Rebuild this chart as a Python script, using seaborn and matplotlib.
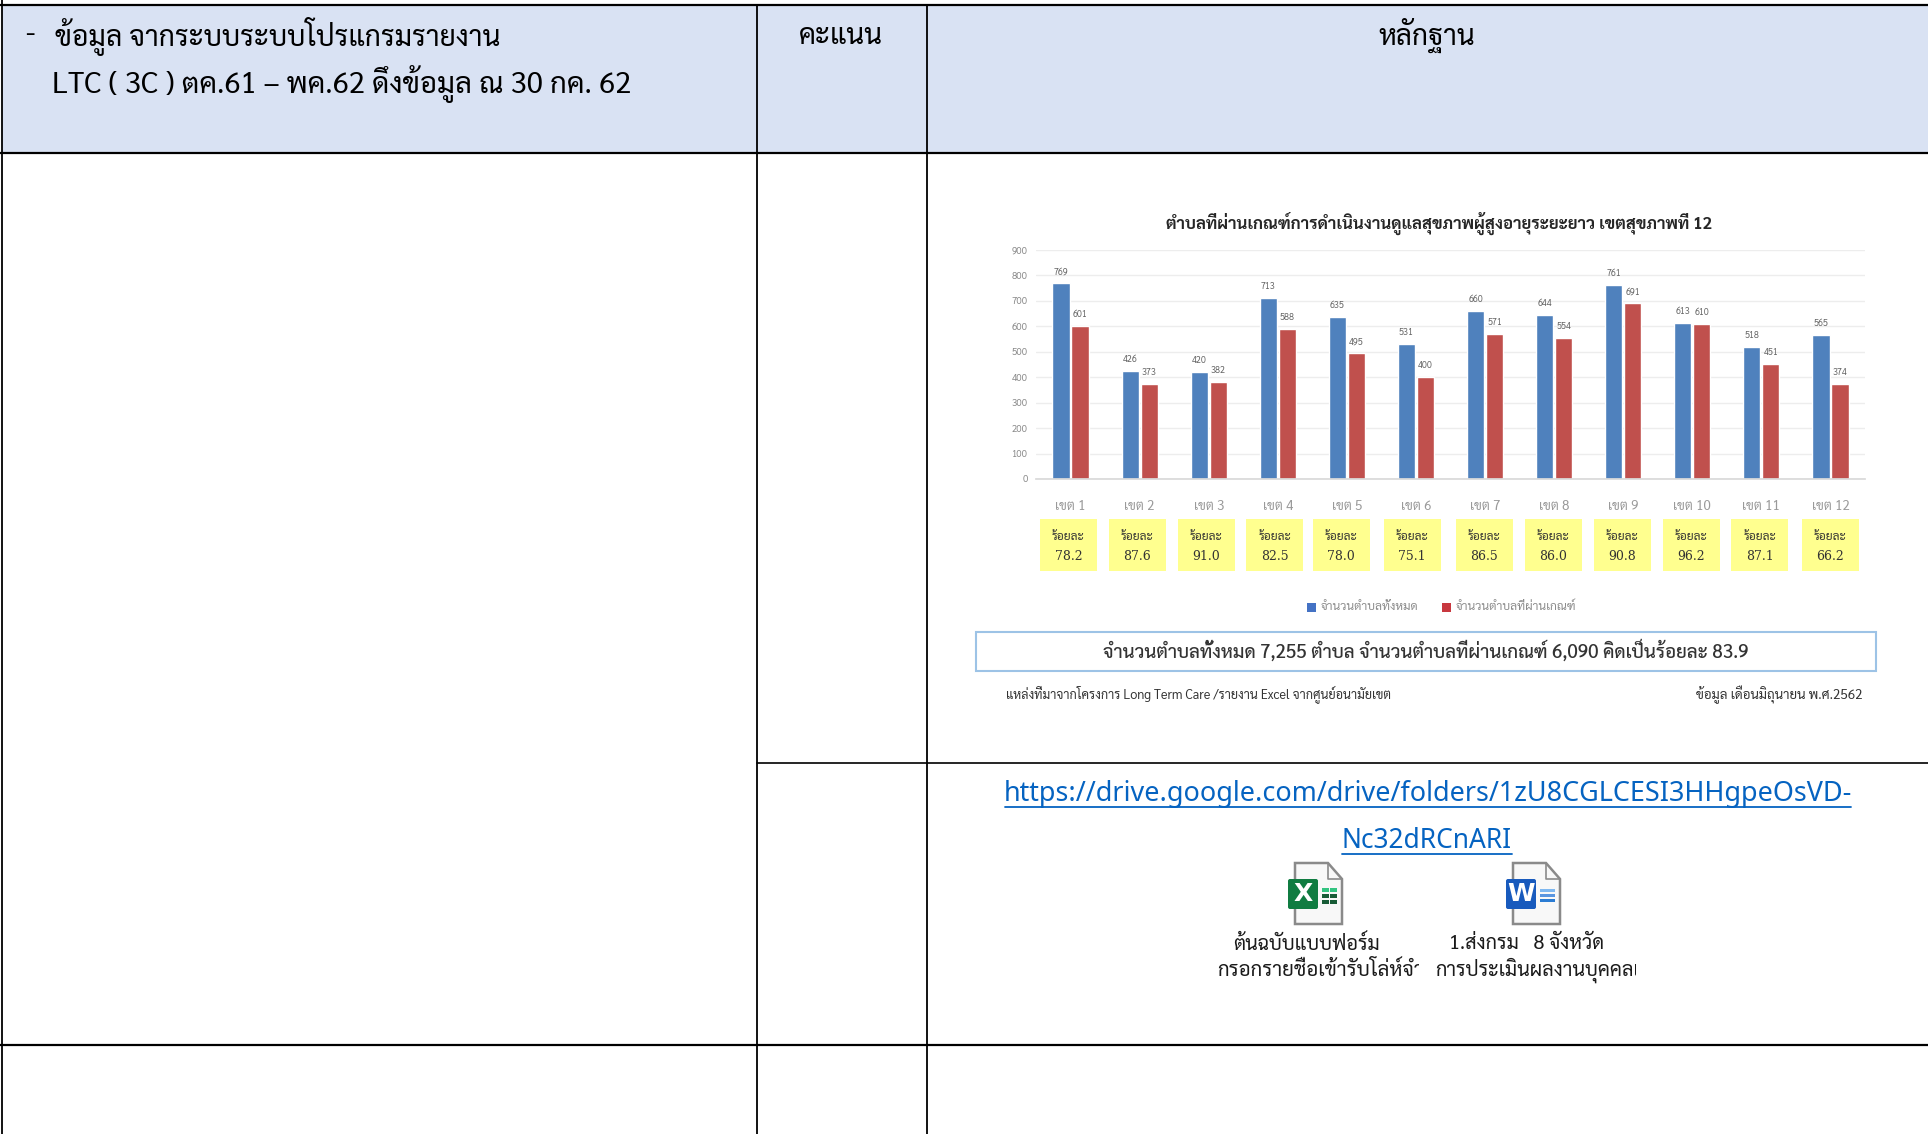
import matplotlib
matplotlib.use("Agg")
import matplotlib.pyplot as plt
from matplotlib import font_manager as fm
from matplotlib.patches import Rectangle, Polygon, FancyBboxPatch
import pandas as pd
import seaborn as sns

regions = ["เขต 1","เขต 2","เขต 3","เขต 4","เขต 5","เขต 6","เขต 7","เขต 8","เขต 9","เขต 10","เขต 11","เขต 12"]
total = [769,426,420,713,635,531,660,644,761,613,518,565]
passed = [601,373,382,588,495,400,571,554,691,610,451,374]
percent = ["78.2","87.6","91.0","82.5","78.0","75.1","86.5","86.0","90.8","96.2","87.1","66.2"]
series_names = ["จำนวนตำบลทั้งหมด","จำนวนตำบลที่ผ่านเกณฑ์"]
chart_title = "ตำบลที่ผ่านเกณฑ์การดำเนินงานดูแลสุขภาพผู้สูงอายุระยะยาว เขตสุขภาพที่ 12"
summary = "จำนวนตำบลทั้งหมด 7,255 ตำบล จำนวนตำบลที่ผ่านเกณฑ์ 6,090 คิดเป็นร้อยละ 83.9"
source = "แหล่งที่มาจากโครงการ Long Term Care /รายงาน Excel จากศูนย์อนามัยเขต"
period = "ข้อมูล เดือนมิถุนายน พ.ศ.2562"
percent_word = "ร้อยละ"
head_dash = "-"
head_1 = "ข้อมูล จากระบบระบบโปรแกรมรายงาน"
head_2 = "LTC ( 3C ) ตค.61 – พค.62 ดึงข้อมูล ณ 30 กค. 62"
head_score = "คะแนน"
head_proof = "หลักฐาน"
link_1 = "https://drive.google.com/drive/folders/1zU8CGLCESI3HHgpeOsVD-"
link_2 = "Nc32dRCnARI"
file_a = ["ต้นฉบับแบบฟอร์ม", "กรอกรายชื่อเข้ารับโล่ห์จำ"]
file_b = ["1.ส่งกรม   8 จังหวัด", "การประเมินผลงานบุคคลเ"]
box_centres = [1068.5, 1137.5, 1206.4, 1274.7, 1341.3, 1412, 1484, 1553, 1622.5, 1691.4, 1759.8, 1830]

installed = {f.name for f in fm.fontManager.ttflist}
thai = next((n for n in ["Sarabun", "Noto Sans Thai", "Niramit", "Anuphan", "Athiti"] if n in installed), "DejaVu Sans")

sns.set_theme(style="white")
plt.rcParams['font.family'] = [thai, 'DejaVu Sans']

fig = plt.figure(figsize=(19.28, 11.34), dpi=100, facecolor="white")
bg = fig.add_axes([0, 0, 1, 1], zorder=0)
bg.set_xlim(0, 1928); bg.set_ylim(1134, 0); bg.axis("off")
renderer = fig.canvas.get_renderer()


def fit(a, x, y, s, width, ha="left", color="black", **kw):
    """Place text and scale its font so that it spans `width` pixels."""
    t = a.text(x, y, s, ha=ha, va="center", color=color, fontsize=12, **kw)
    w = t.get_window_extent(renderer).width
    t.set_fontsize(12 * width / w)
    return t


# table
bg.add_patch(Rectangle((2, 5), 1926, 148, fc="#D9E2F3", ec="none"))
for y in [5, 153, 1045]:
    bg.plot([0, 1928], [y, y], color="black", lw=1.6, solid_capstyle="butt")
bg.plot([757, 1928], [763, 763], color="black", lw=1.2)
bg.plot([1.5, 1.5], [0, 1134], color="black", lw=1.3)
for x in [756.5, 927]:
    bg.plot([x, x], [5, 1134], color="black", lw=1.3)

bg.text(25, 34, head_dash, fontsize=20, ha="left", va="center", color="black")
fit(bg, 55, 36, head_1, 445)
fit(bg, 52, 84, head_2, 579)
fit(bg, 841, 37, head_score, 84, ha="center")
fit(bg, 1427, 35, head_proof, 97, ha="center")

# chart
ax = fig.add_axes([1036/1928, (1134-479)/1134, 829/1928, 229/1134], zorder=2)
df = pd.DataFrame({"region": regions*2, "value": total+passed,
                   "series": [series_names[0]]*12 + [series_names[1]]*12})
sns.barplot(data=df, x="region", y="value", hue="series", palette=["#4F81BD", "#C0504D"],
            saturation=1, width=0.55, gap=0.1, legend=False, ax=ax)
ax.set_ylim(0, 900); ax.set_xlim(-0.5, 11.5)
ax.set_xlabel(""); ax.set_ylabel("")
ax.patch.set_alpha(0)
sns.despine(ax=ax, left=True, top=True, right=True)
ax.spines["bottom"].set_color("#D9D9D9")
ax.yaxis.grid(True, color="#EDEDED", lw=1); ax.set_axisbelow(True)
ax.set_yticks(range(0, 901, 100))
ax.tick_params(axis="y", labelsize=7, colors="#8a8a8a", length=0, pad=6)
ax.tick_params(axis="x", labelsize=9.5, colors="#9a9a9a", length=0, pad=15)
for c in ax.containers:
    ax.bar_label(c, fontsize=6.5, color="#666666", padding=5)

fit(bg, 1439, 223, chart_title, 546, ha="center", color="#262626", fontweight="bold")

# percentage boxes
for xc, p in zip(box_centres, percent):
    bg.add_patch(Rectangle((xc - 28.5, 519), 57, 52, fc="#FFFF8F", ec="none"))
    fit(bg, xc, 537, percent_word, 33, ha="center", color="#333333")
    bg.text(xc, 557, p, ha="center", va="center", fontsize=9, color="#333333", family="DejaVu Serif")

# legend
bg.add_patch(Rectangle((1307, 603), 9, 9, fc="#4472C4", ec="none"))
fit(bg, 1321, 607, series_names[0], 98, color="#8c8c8c")
bg.add_patch(Rectangle((1442, 603), 9, 9, fc="#C8383F", ec="none"))
fit(bg, 1456, 607, series_names[1], 121, color="#8c8c8c")

# summary and footer
bg.add_patch(Rectangle((976, 632), 900, 39, fc="white", ec="#9DC3E6", lw=1.5))
fit(bg, 1426, 650, summary, 646, ha="center", color="#333333", fontweight=500)
fit(bg, 1006, 694, source, 386, color="#333333")
fit(bg, 1862, 695, period, 167, ha="right", color="#333333")

# link
for y, s, x0, x1 in [(794, link_1, 1005, 1851), (841, link_2, 1342, 1512)]:
    fit(bg, (x0 + x1) / 2, y, s, x1 - x0, ha="center", color="#0563C1", family="Noto Sans", fontweight="light")
    bg.plot([x0, x1], [y + 13, y + 13], color="#0563C1", lw=1.3)


# file icons
def icon(x0, fill, letter, grid):
    page = [(x0 + 8, 863), (x0 + 41, 863), (x0 + 55, 879), (x0 + 55, 924), (x0 + 8, 924)]
    bg.add_patch(Polygon(page, closed=True, fc="#F8F8F8", ec="#8a8a8a", lw=1.8))
    bg.plot([x0 + 41, x0 + 41, x0 + 55], [863, 879, 879], color="#8a8a8a", lw=1.2)
    bg.add_patch(FancyBboxPatch((x0 + 1, 879), 30, 30, boxstyle="round,pad=0,rounding_size=2",
                                fc=fill, ec="none"))
    bg.text(x0 + 16, 894, letter, ha="center", va="center", color="white",
            fontsize=18, fontweight="bold", family="DejaVu Sans")
    for k, col in enumerate(grid):
        if letter == "X":
            bg.add_patch(Rectangle((x0 + 35, 888 + k * 6), 6.5, 3.8, fc=col, ec="none"))
            bg.add_patch(Rectangle((x0 + 43, 888 + k * 6), 6.5, 3.8, fc=col, ec="none"))
        else:
            bg.add_patch(Rectangle((x0 + 35, 889 + k * 5), 15, 2.5, fc=col, ec="none"))


icon(1287, "#107C41", "X", ["#33C481", "#185C37", "#185C37"])
icon(1505, "#185ABD", "W", ["#7FB8F0", "#5A96E0", "#2B7CD3"])

for (lines, xc, x0, x1) in [(file_a, 1307, 1217, 1419), (file_b, 1527, 1435, 1636)]:
    fit(bg, xc, 944, lines[0], 146 if xc == 1307 else 155, ha="center", color="#1a1a1a")
    t = fit(bg, x0, 970, lines[1], x1 - x0 + 4, color="#1a1a1a")
    t.set_clip_path(Rectangle((x0, 955), x1 - x0, 30, transform=bg.transData))
    t.set_clip_on(True)

fig.savefig("out.png", dpi=100)
